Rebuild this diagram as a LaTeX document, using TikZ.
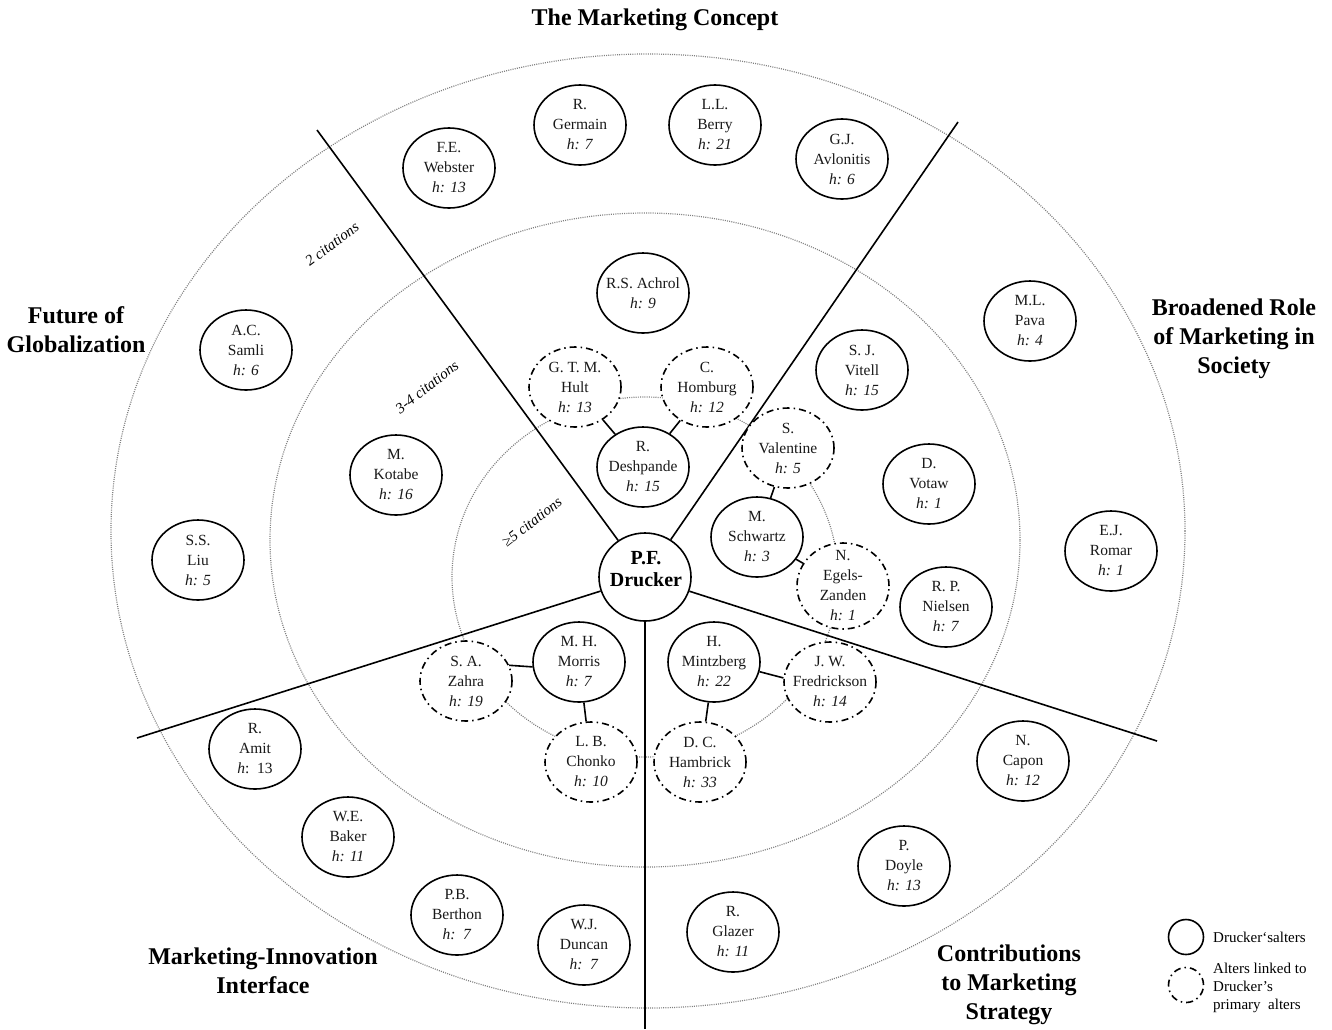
\documentclass[tikz,border=0pt]{standalone}
\usepackage{fontspec}
\setmainfont{Liberation Serif}
\usetikzlibrary{shapes.geometric}
\tikzset{
  au/.style={ellipse, draw, fill=white, line width=1.6pt, minimum width=92pt, minimum height=80pt, inner sep=0pt},
  dd/.style={dash pattern=on 7pt off 4pt on 1.5pt off 4pt},
  sec/.style={au, dd},
  txt/.style={align=center, font=\fontsize{15.5}{20}\selectfont, inner sep=0pt, text=black!90},
  ring/.style={gray, line width=1.2pt, dash pattern=on 1pt off 1.2pt},
  sepline/.style={line width=1.6pt},
  link/.style={line width=1.6pt},
  ttl/.style={align=center, font=\fontsize{24}{29}\selectfont\bfseries},
  cit/.style={font=\fontsize{15}{18}\selectfont\itshape, inner sep=0pt},
  legtxt/.style={anchor=west, align=left, font=\fontsize{15}{18}\selectfont, inner sep=0pt},
}
\newcommand\placeau[5]{\node[#1] (#2) at (#3) {}; \node[txt] (#2-t) at (#2) {#4#5};}
\begin{document}
\begin{tikzpicture}[x=1pt,y=-1pt]
\useasboundingbox (0,0) rectangle (1332,1029);
% rings
\draw[ring] (648,531) ellipse [x radius=537pt, y radius=477pt];
\draw[ring] (645,540) ellipse [x radius=375pt, y radius=327pt];
\draw[ring] (645,577) ellipse [x radius=193pt, y radius=180pt];
% centre
\node[ellipse, draw, fill=white, line width=1.6pt, minimum width=92pt, minimum height=88pt, inner sep=0pt] (drucker) at (645,577) {};
\node[align=center, font=\fontsize{20}{22}\selectfont\bfseries, inner sep=0pt] (drucker-t) at (646,569) {P.F.\\Drucker};
% separators
\coordinate (ul) at (317,130);
\coordinate (ur) at (958,122);
\coordinate (ll) at (137,738);
\coordinate (lr) at (1157,741);
\coordinate (dn) at (646,1029);
\draw[sepline] (drucker) -- (ul);
\draw[sepline] (drucker) -- (ur);
\draw[sepline] (drucker) -- (ll);
\draw[sepline] (drucker) -- (lr);
\draw[sepline] (drucker) -- (drucker.south |- dn);
% titles
\node[ttl] (t1) at (655,20) {The Marketing Concept};
\node[ttl] (t2) at (76,330) {Future of\\Globalization};
\node[ttl] (t3) at (1234,339) {Broadened Role\\of Marketing in\\Society};
\node[ttl] (t4) at (263,971) {Marketing-Innovation\\Interface};
\node[ttl] (t5) at (1009,985) {Contributions\\to Marketing\\Strategy};
% citation labels
\node[cit, rotate=37] (c2) at (332,244) {2 citations};
\node[cit, rotate=38] (c34) at (427,387) {3-4 citations};
\node[cit, rotate=38] (c5) at (532,522) {≥5 citations};
% the marketing concept
\placeau{au}{webster}{449,168}{F.E.\\Webster\\}{\textit{h: 13}}
\placeau{au}{germain}{580,125}{R.\\Germain\\}{\textit{h: 7}}
\placeau{au}{berry}{715,125}{L.L.\\Berry\\}{\textit{h: 21}}
\placeau{au}{avlonitis}{842,159}{G.J.\\Avlonitis\\}{\textit{h: 6}}
\placeau{au}{achrol}{643,293}{R.S. Achrol\\}{\textit{h: 9}}
\placeau{sec}{hult}{575,387}{G. T. M.\\Hult\\}{\textit{h: 13}}
\placeau{sec}{homburg}{707,387}{C.\\Homburg\\}{\textit{h: 12}}
\placeau{au}{deshpande}{643,467}{R.\\Deshpande\\}{\textit{h: 15}}
% broadened role
\placeau{au}{pava}{1030,321}{M.L.\\Pava\\}{\textit{h: 4}}
\placeau{au}{vitell}{862,370}{S. J.\\Vitell\\}{\textit{h: 15}}
\placeau{sec}{valentine}{788,448}{S.\\Valentine\\}{\textit{h: 5}}
\placeau{au}{votaw}{929,484}{D.\\Votaw\\}{\textit{h: 1}}
\placeau{au}{schwartz}{757,537}{M.\\Schwartz\\}{\textit{h: 3}}
\node[sec, minimum height=86pt] (egels) at (843,586) {};
\node[txt] (egels-t) at (egels) {N.\\Egels-\\Zanden\\\textit{h: 1}};
\placeau{au}{romar}{1111,551}{E.J.\\Romar\\}{\textit{h: 1}}
\placeau{au}{nielsen}{946,607}{R. P.\\Nielsen\\}{\textit{h: 7}}
% future of globalization
\placeau{au}{samli}{246,350}{A.C.\\Samli\\}{\textit{h: 6}}
\placeau{au}{kotabe}{396,475}{M.\\Kotabe\\}{\textit{h: 16}}
\placeau{au}{liu}{198,560}{S.S.\\Liu\\}{\textit{h: 5}}
% marketing-innovation interface
\placeau{sec}{zahra}{466,681}{S. A.\\Zahra\\}{\textit{h: 19}}
\placeau{au}{morris}{579,662}{M. H.\\Morris\\}{\textit{h: 7}}
\placeau{sec}{chonko}{591,762}{L. B.\\Chonko\\}{\textit{h: 10}}
\placeau{au}{amit}{255,749}{R.\\Amit\\}{\textit{h}:~~13}
\placeau{au}{baker}{348,837}{W.E.\\Baker\\}{\textit{h: 11}}
\placeau{au}{berthon}{457,915}{P.B.\\Berthon\\}{\textit{h:~~7}}
\placeau{au}{duncan}{584,945}{W.J.\\Duncan\\}{\textit{h:~~7}}
% contributions to marketing strategy
\placeau{au}{mintzberg}{714,662}{H.\\Mintzberg\\}{\textit{h: 22}}
\placeau{sec}{fredrickson}{830,682}{J. W.\\Fredrickson\\}{\textit{h: 14}}
\placeau{sec}{hambrick}{700,762}{D. C.\\Hambrick\\}{\textit{h: 33}}
\placeau{au}{capon}{1023,761}{N.\\Capon\\}{\textit{h: 12}}
\placeau{au}{doyle}{904,866}{P.\\Doyle\\}{\textit{h: 13}}
\placeau{au}{glazer}{733,932}{R.\\Glazer\\}{\textit{h: 11}}
% links
\draw[link] (hult) -- (deshpande);
\draw[link] (homburg) -- (deshpande);
\draw[link] (valentine) -- (schwartz);
\draw[link] (schwartz) -- (egels);
\draw[link] (zahra.20) -- (morris.186);
\draw[link] (morris) -- (chonko);
\draw[link] (mintzberg.-12) -- (fredrickson.175);
\draw[link] (mintzberg) -- (hambrick);
% legend
\node[circle, draw, line width=1.6pt, minimum size=35pt, inner sep=0pt] (leg1) at (1186,937) {};
\node[legtxt] (leg1-t) at (1213,937) {Drucker‘salters};
\node[circle, draw, line width=1.6pt, dd, minimum size=35pt, inner sep=0pt] (leg2) at (1186,985) {};
\node[legtxt] (leg2-t) at (1213,988) {Alters linked to\\Drucker’s\\primary~~alters};
\end{tikzpicture}
\end{document}
